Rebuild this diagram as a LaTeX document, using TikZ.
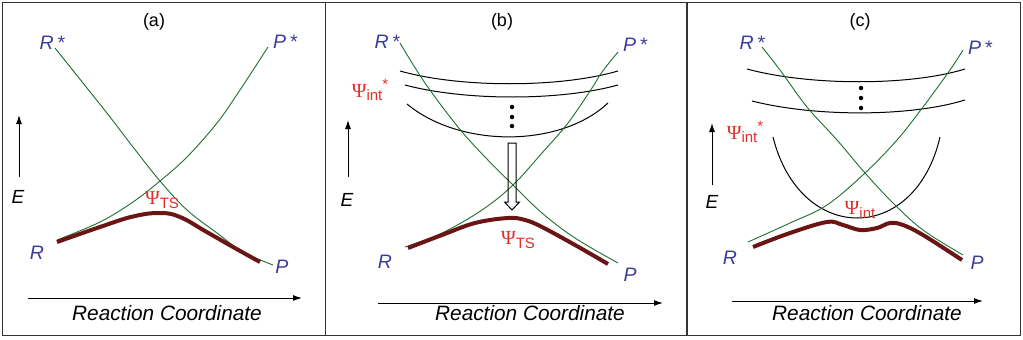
\documentclass[tikz,border=0pt]{standalone}
\usepackage{fontspec}
\setmainfont{Liberation Sans}
\newfontfamily\psifont{Liberation Serif}
\usetikzlibrary{arrows.meta}
\definecolor{lblblue}{HTML}{3C3C9A}
\definecolor{psired}{HTML}{E0302B}
\definecolor{dgreen}{HTML}{1E6E30}
\definecolor{thickbrown}{HTML}{6A1414}
\definecolor{framegray}{HTML}{333333}
\tikzset{
  greencurve/.style={draw=dgreen, line width=0.9pt},
  thickcurve/.style={draw=thickbrown, line width=4pt},
  blackcurve/.style={draw=black, line width=1pt},
  lbl/.style={text=lblblue, font=\fontsize{19.5}{22}\selectfont\itshape, inner sep=0pt},
  psilbl/.style={text=psired, font=\fontsize{20}{22}\selectfont, inner sep=0pt},
  elbl/.style={text=black, font=\fontsize{19}{22}\selectfont\itshape, inner sep=0pt},
  rclbl/.style={text=black, font=\fontsize{20.8}{24}\selectfont\itshape, inner sep=0pt},
  titlelbl/.style={text=black, font=\fontsize{18}{20}\selectfont, inner sep=0pt},
  axisarrow/.style={-{Latex[length=9pt,width=6pt]}, line width=1pt},
  dotmark/.style={circle, fill=black, inner sep=0pt, minimum size=4.5pt},
}
\newcommand{\psiTS}{{\psifont Ψ}\raisebox{-3.5pt}{\fontsize{15}{16}\selectfont TS}}
\newcommand{\psiInt}{{\psifont Ψ}\raisebox{-3.5pt}{\fontsize{15}{16}\selectfont int}}
\newcommand{\psiIntStar}{{\psifont Ψ}\raisebox{-3.5pt}{\fontsize{15}{16}\selectfont int}\raisebox{8pt}{\fontsize{15}{16}\selectfont *}}
\begin{document}
\begin{tikzpicture}[x=1pt, y=-1pt]
\useasboundingbox (0,0) rectangle (1023,340);
% frame
\draw[framegray, line width=1.6pt] (2.5,2.5) rectangle (1020.5,335.5);
\draw[framegray, line width=1.6pt] (325.5,2.5) -- (325.5,335.5);
\draw[framegray, line width=1.6pt] (687,2.5) -- (687,335.5);

% ================= panel (a) =================
\node[titlelbl] (ta) at (154,22) {(a)};
\draw[greencurve] plot[smooth, tension=0.6] coordinates {(55,48) (83,83) (110,117) (133,147) (160,181) (187,210) (217,233) (243,252) (273,265)};
\draw[greencurve] plot[smooth, tension=0.6] coordinates {(57,240) (100,222) (133,202) (160,181) (187,157) (217,123) (240,90) (268,47)};
\draw[thickcurve] plot[smooth, tension=0.7] coordinates {(57,242) (100,227) (133,216.5) (160,213) (180,217) (205,231) (233,247) (260,262)};
\node[lbl] (rsa) at (52,43) {R\,*};
\node[lbl] (psa) at (285,42) {P\,*};
\node[lbl] (ra) at (37,253) {R};
\node[lbl] (pa) at (282,267) {P};
\node[psilbl] (tsa) at (162,200) {\psiTS};
\coordinate (ea0) at (19,177);
\coordinate (ea1) at (19,115);
\draw[axisarrow] (ea0) -- (ea1);
\node[elbl] (ea) at (18,197) {E};
\coordinate (rca0) at (28,298);
\coordinate (rca1) at (302,298);
\draw[axisarrow] (rca0) -- (rca1);
\node[rclbl] (rcla) at (167,313) {Reaction Coordinate};

% ================= panel (b) =================
\node[titlelbl] (tb) at (502,22) {(b)};
\draw[blackcurve] (400,71) .. controls (460,88) and (560,88) .. (618,71);
\draw[blackcurve] (405,85) .. controls (465,101) and (560,101) .. (618,85);
\draw[blackcurve] (407,104) .. controls (460,148) and (560,148) .. (608,103);
\node[dotmark] (db1) at (512,107) {};
\node[dotmark] (db2) at (512,117) {};
\node[dotmark] (db3) at (512,126) {};
\draw[greencurve] plot[smooth, tension=0.6] coordinates {(400,43) (425,83) (458,127) (485,157) (513,185) (542,213) (575,238) (618,263)};
\draw[greencurve] plot[smooth, tension=0.6] coordinates {(618,52) (602,72) (592,88) (568,123) (542,153) (513,185) (482,210) (442,233) (405,247)};
\draw[thickcurve] plot[smooth, tension=0.6] coordinates {(408,248) (442,235) (475,223) (508,218) (525,220) (542,227) (575,245) (608,264)};
\draw[line width=1pt] (508,143) -- (516,143) -- (516,202) -- (519.5,202) -- (512,210) -- (504.5,202) -- (508,202) -- cycle;
\node[lbl] (rsb) at (387,42) {R\,*};
\node[lbl] (psb) at (635,45) {P\,*};
\node[lbl] (rb) at (385,262) {R};
\node[lbl] (pb) at (630,275) {P};
\node[psilbl] (intsb) at (370,90) {\psiIntStar};
\node[psilbl] (tsb) at (518,240) {\psiTS};
\coordinate (eb0) at (348,177);
\coordinate (eb1) at (348,120);
\draw[axisarrow] (eb0) -- (eb1);
\node[elbl] (eb) at (347,200) {E};
\coordinate (rcb0) at (378,303);
\coordinate (rcb1) at (663,303);
\draw[axisarrow] (rcb0) -- (rcb1);
\node[rclbl] (rclb) at (530,313) {Reaction Coordinate};

% ================= panel (c) =================
\node[titlelbl] (tc) at (860,22) {(c)};
\draw[blackcurve] (747,69) .. controls (810,86) and (910,86) .. (965,69);
\draw[blackcurve] (752,101) .. controls (815,117) and (910,117) .. (965,100);
\draw[blackcurve] (773,137) .. controls (800,245) and (915,245) .. (940,137);
\node[dotmark] (dc1) at (861,88) {};
\node[dotmark] (dc2) at (861,98) {};
\node[dotmark] (dc3) at (861,108) {};
\draw[greencurve] plot[smooth, tension=0.6] coordinates {(762,47) (780,70) (807,107) (837,140) (865,173) (893,203) (923,230) (963,255)};
\draw[greencurve] plot[smooth, tension=0.6] coordinates {(963,50) (950,70) (923,107) (897,140) (865,173) (827,205) (790,223) (748,242)};
\draw[thickcurve] plot[smooth, tension=0.6] coordinates {(753,247) (790,233) (827,222) (843,225) (860,230) (877,228) (890,223) (903,225) (923,235) (962,260)};
\node[lbl] (rsc) at (752,43) {R\,*};
\node[lbl] (psc) at (980,48) {P\,*};
\node[lbl] (rc) at (730,258) {R};
\node[lbl] (pc) at (977,263) {P};
\node[psilbl] (intsc) at (745,132) {\psiIntStar};
\node[psilbl] (intc) at (860,210) {\psiInt};
\coordinate (ec0) at (712,185);
\coordinate (ec1) at (712,123);
\draw[axisarrow] (ec0) -- (ec1);
\node[elbl] (ec) at (712,202) {E};
\coordinate (rcc0) at (732,301);
\coordinate (rcc1) at (983,301);
\draw[axisarrow] (rcc0) -- (rcc1);
\node[rclbl] (rclc) at (867,313) {Reaction Coordinate};
\end{tikzpicture}
\end{document}
